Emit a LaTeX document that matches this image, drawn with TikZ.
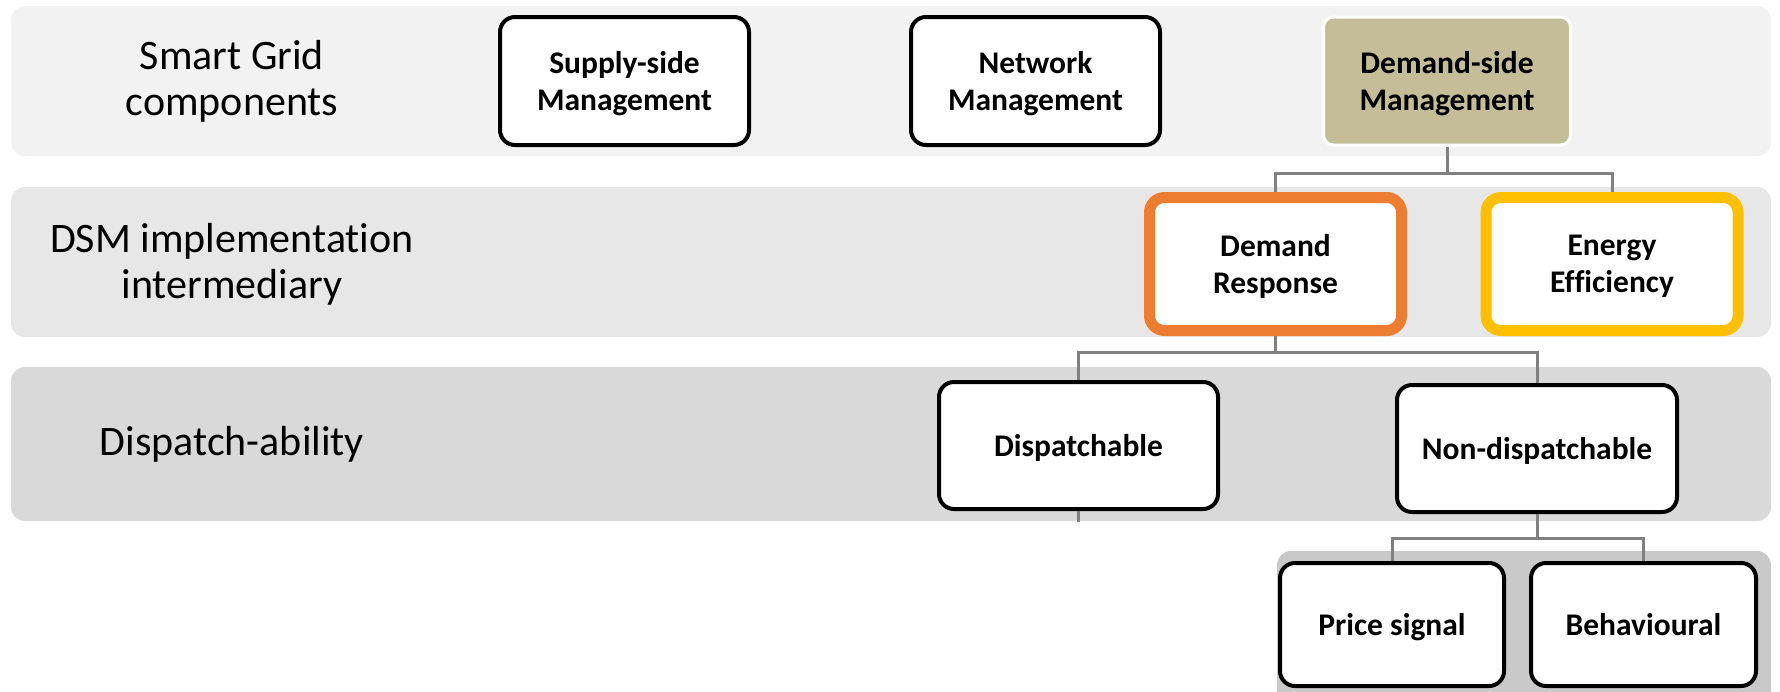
\documentclass[tikz,border=0pt]{standalone}
\usepackage{fontspec}
\setmainfont{Carlito}[Ligatures=NoCommon]

\definecolor{bandone}{HTML}{F2F2F2}
\definecolor{bandtwo}{HTML}{E7E7E7}
\definecolor{bandthree}{HTML}{D9D9D9}
\definecolor{bandfour}{HTML}{C9C9C9}
\definecolor{dsmtan}{HTML}{C4BD97}
\definecolor{droran}{HTML}{ED7D31}
\definecolor{eeyell}{HTML}{FFC000}
\definecolor{linkgray}{HTML}{808080}

\begin{document}
\begin{tikzpicture}[x=1pt, y=-1pt,
    band/.style={rounded corners=14pt},
    rowlabel/.style={align=center, font=\fontsize{42}{46}\selectfont},
    mgmt/.style={draw=black, fill=white, line width=4pt, rounded corners=15pt,
        minimum width=249pt, minimum height=128pt, align=center, text depth=0pt,
        font=\bfseries\fontsize{31.5}{37}\selectfont},
    dsmbox/.style={mgmt, line width=11pt, minimum width=252pt, minimum height=133pt},
    link/.style={draw=linkgray, line width=3pt}]
        \useasboundingbox (0,0) rectangle (1780,691);
        \clip (0,0) rectangle (1780,691);
        %\draw [help lines,gray!50,step=10] (0,0) grid (1780,691);
        % rows
        \fill[bandone, band] (11,6) rectangle (1771,156);
        \fill[bandtwo, band] (11,187) rectangle (1771,337);
        \fill[bandthree, band] (11,367) rectangle (1771,521);
        \fill[bandfour, band] (1277,551) rectangle (1771,720);
        \node (sglabel) [rowlabel] at (232,81) {Smart Grid\\components};
        \node (imlabel) [rowlabel] at (232,264) {DSM implementation\\intermediary};
        \node (dplabel) [rowlabel] at (232,444) {Dispatch-ability};
        % smart grid components
        \node (supply) [mgmt] at (624.5,81) {Supply-side\\Management};
        \node (network) [mgmt] at (1035.5,81) {Network\\Management};
        \node (dsm) [mgmt, draw=white, line width=3pt, fill=dsmtan, rounded corners=10pt,
            minimum width=247pt] at (1447,81) {Demand-side\\Management};
        % intermediaries
        \node (dr) [dsmbox, draw=droran] at (1275.5,264) {Demand\\Response};
        \node (ee) [dsmbox, draw=eeyell] at (1612,264) {Energy\\Efficiency};
        % dispatch-ability
        \node (disp) [mgmt, minimum width=279pt, minimum height=127pt] at (1078.5,445.5) {Dispatchable};
        \node (nondisp) [mgmt, minimum width=280pt, minimum height=127pt] at (1537,448.5) {Non-dispatchable};
        \node (price) [mgmt, minimum width=224pt, minimum height=123pt] at (1392,624.5) {Price signal};
        \node (behav) [mgmt, minimum width=225pt, minimum height=123pt] at (1643.5,624.5) {Behavioural};
        % tree links
        \draw[link] (dsm.south) -- ++(0,27) -| (dr.north);
        \draw[link] (dsm.south) -- ++(0,27) -| (ee.north);
        \draw[link] (dr.south) -- ++(0,16) -| (disp.north);
        \draw[link] (dr.south) -- ++(0,16) -| (nondisp.north);
        \draw[link] (disp.south) -- ++(0,11);
        \draw[link] (nondisp.south) -- ++(0,24) -| (price.north);
        \draw[link] (nondisp.south) -- ++(0,24) -| (behav.north);
    \end{tikzpicture}
\end{document}
